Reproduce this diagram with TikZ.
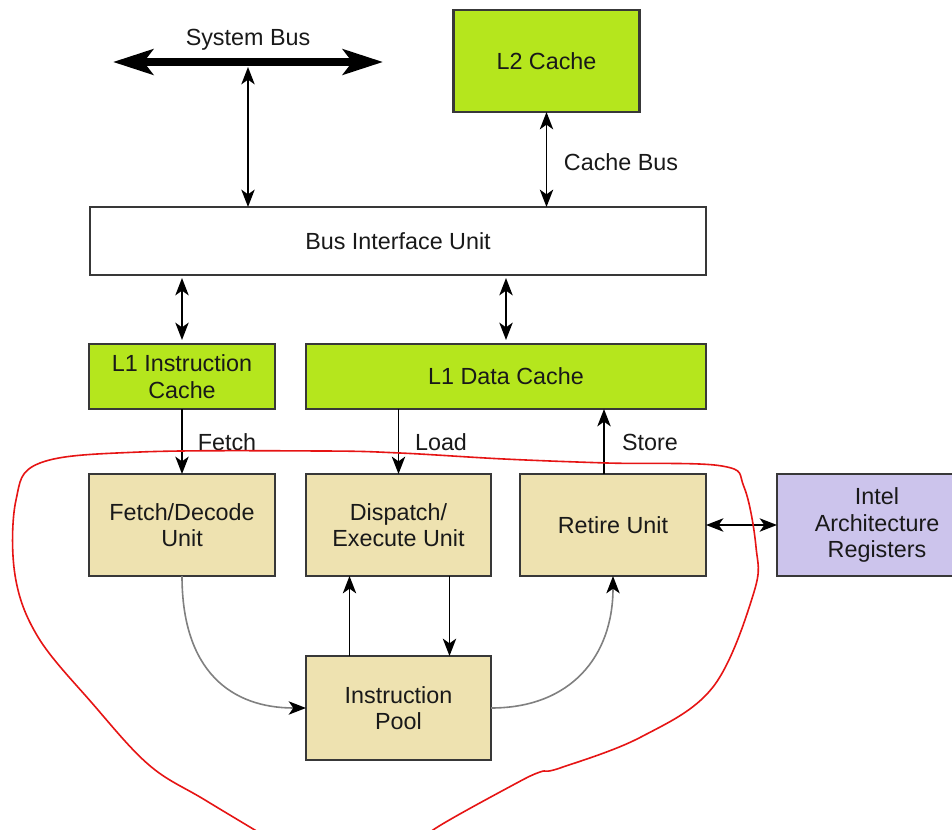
\documentclass[tikz,border=0pt]{standalone}
\usepackage{fontspec}
\setmainfont{Liberation Sans}
\usetikzlibrary{arrows.meta,calc}
\definecolor{lgreen}{RGB}{181,230,29}
\definecolor{tanbox}{RGB}{238,226,176}
\definecolor{lav}{RGB}{204,196,236}
\definecolor{freehand}{RGB}{230,20,20}
\begin{document}
\begin{tikzpicture}[x=0.75pt,y=-0.75pt,
  every node/.style={font=\fontsize{17.5}{20}\selectfont, text=black!90},
  box/.style={draw=black!78, line width=1.7pt, align=center, inner sep=0pt, outer sep=0pt},
  greenbox/.style={box, fill=lgreen},
  tanb/.style={box, fill=tanbox},
  tip/.style={},
  arr/.style={line width=1.4pt, -{Stealth[length=13pt,width=10pt,inset=3.5pt]}},
  dblarr/.style={line width=1.4pt, {Stealth[length=13pt,width=10pt,inset=3.5pt]}-{Stealth[length=13pt,width=10pt,inset=3.5pt]}},
  curv/.style={line width=1.2pt, draw=black!50, -{Stealth[length=13pt,width=10pt,inset=3.5pt,color=black]}},
  lbl/.style={inner sep=0pt}]
\clip (0,0) rectangle (952,830);
\fill[white] (0,0) rectangle (952,830);

% boxes
\node[greenbox, minimum width=139.5pt, minimum height=76.5pt] (l2) at (546.5,61) {L2 Cache};
\node[box, fill=white, minimum width=462pt, minimum height=51pt] (biu) at (398,241) {Bus Interface Unit};
\node[greenbox, minimum width=139.5pt, minimum height=48.75pt] (l1i) at (182,376.5) {L1 Instruction\\Cache};
\node[greenbox, minimum width=300pt, minimum height=48.75pt] (l1d) at (506,376.5) {L1 Data Cache};
\node[tanb, minimum width=139.5pt, minimum height=76.5pt] (fd) at (182,525) {Fetch/Decode\\Unit};
\node[tanb, minimum width=138.75pt, minimum height=76.5pt] (disp) at (398.5,525) {Dispatch/\\Execute Unit};
\node[tanb, minimum width=139.5pt, minimum height=76.5pt] (ret) at (613,525) {Retire Unit};
\node[box, fill=lav, minimum width=150pt, minimum height=76.5pt] (intel) at (877,525) {Intel\\Architecture\\Registers};
\node[tanb, minimum width=138.75pt, minimum height=78pt] (pool) at (398.5,708) {Instruction\\Pool};

% system bus
\coordinate (sbl) at (113,62);
\coordinate (sbr) at (383,62);
\coordinate (sbj) at (248,67);
\draw[line width=5.5pt, {Stealth[length=30pt,width=19pt,inset=7pt]}-{Stealth[length=30pt,width=19pt,inset=7pt]}] (sbl) -- (sbr);
\node[lbl] (sblabel) at (248,40) {System Bus};
\draw[dblarr] (sbj) -- (sbj |- biu.north);

% cache bus
\draw[dblarr] (l2.south) -- (l2.south |- biu.north);
\node[lbl] (cblabel) at (621,162) {Cache Bus};

% BIU to L1 caches
\coordinate (a1) at ($(l1i.north |- biu.south)+(0,3)$);
\coordinate (a2) at ($(l1i.north)+(0,-4)$);
\draw[dblarr] (a1) -- (a2);
\coordinate (b1) at ($(l1d.north |- biu.south)+(0,3)$);
\coordinate (b2) at ($(l1d.north)+(0,-4)$);
\draw[dblarr] (b1) -- (b2);

% fetch / load / store
\draw[arr] (l1i.south) -- (fd.north);
\node[lbl] (fetchlbl) at (227,442) {Fetch};
\draw[arr] (l1d.south -| disp.north) -- (disp.north);
\node[lbl] (loadlbl) at (441,442) {Load};
\coordinate (st) at ($(ret.north)+(-9,0)$);
\draw[arr] (st) -- (st |- l1d.south);
\node[lbl] (storelbl) at (650,442) {Store};

% retire <-> registers
\draw[dblarr] (ret.east) -- (intel.west);

% pool <-> dispatch
\coordinate (pu) at ($(pool.north)+(-49,0)$);
\draw[arr] (pu) -- (pu |- disp.south);
\coordinate (pd) at ($(pool.north)+(51,0)$);
\draw[arr] (pd |- disp.south) -- (pd);

% curved connectors
\draw[curv] (fd.south) .. controls +(0,95) and +(-75,0) .. (pool.west);
\draw[curv] (pool.east) .. controls +(80,0) and +(0,80) .. (ret.south);

% red freehand loop
\draw[freehand, line width=1.2pt] plot[smooth, tension=0.6] coordinates {
 (280,845) (205,800) (149,765) (92,703) (38,637) (15,575) (16,500) (40,463)
 (140,452) (322,451) (400,453) (504,459) (607,463) (722,466) (744,487)
 (756,547) (754,592) (713,687) (641,737) (560,768) (540,772) (513,785) (436,828) (420,845)};
\end{tikzpicture}
\end{document}
